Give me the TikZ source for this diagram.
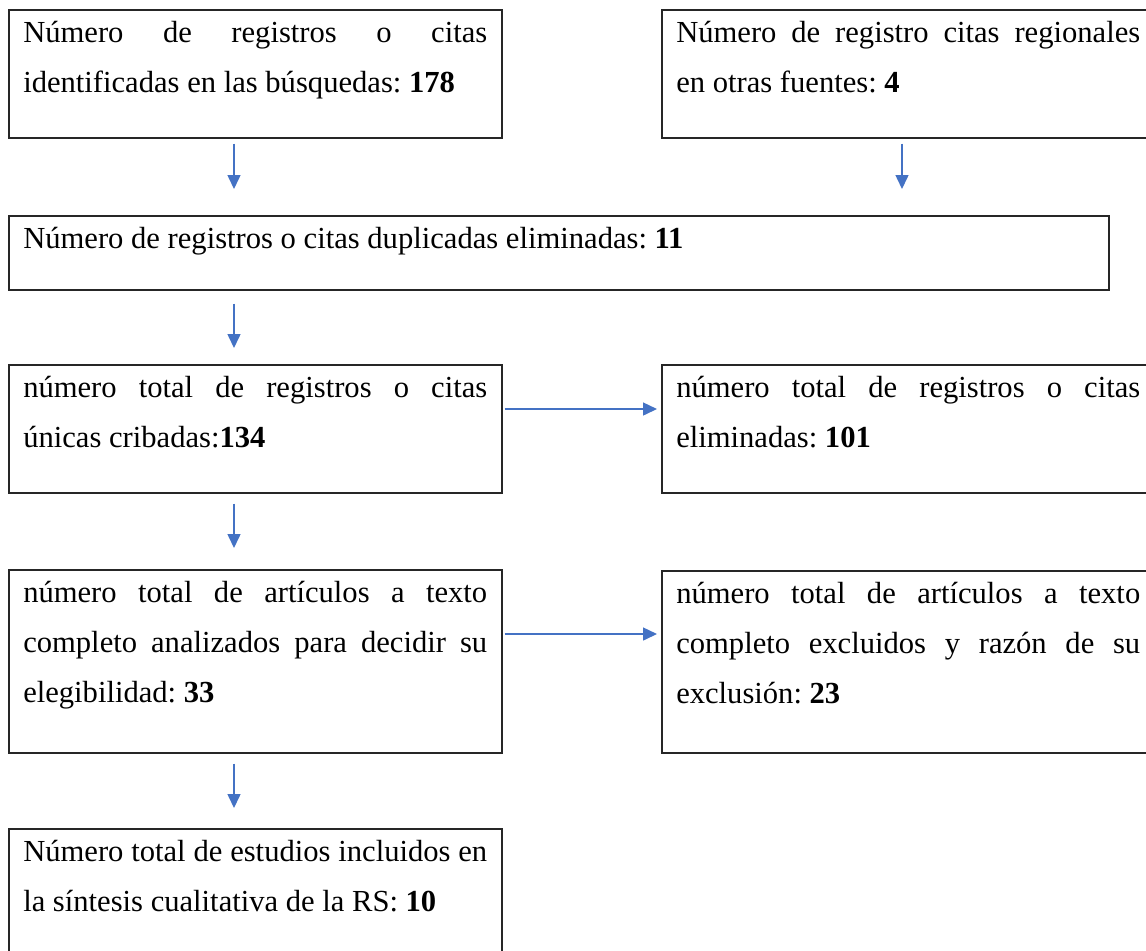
\documentclass[tikz,border=0pt]{standalone}
\usepackage{fontspec}
\setmainfont{Liberation Serif}
\usepackage{tikz}
\usetikzlibrary{arrows.meta}
\definecolor{azul}{RGB}{68,114,196}
\frenchspacing
\hbadness=10000
\newcommand{\cajatexto}[3][232pt]{\parbox[c][#2][t]{#1}{\rule{0pt}{16.5pt}#3}}
\newcommand{\renglon}[1]{\makebox[\linewidth][s]{#1}\\}

\begin{document}
\begin{tikzpicture}[x=0.5pt,y=-0.5pt]
\tikzset{caja/.style={draw=black!85,line width=0.75pt,anchor=north west,inner xsep=7.25pt,inner ysep=0pt,font=\fontsize{15.3}{25}\selectfont},
flecha/.style={draw=azul,line width=0.75pt,-{Triangle[width=6.5pt,length=7pt]}}}
\useasboundingbox (0,0) rectangle (1146,950);
\clip (0,0) rectangle (1146,950);
\node[caja] (busq) at (8,9) {\cajatexto{64pt}{\renglon{Número de registros o citas}identificadas en las búsquedas: \textbf{178}}};
\node[caja] (otras) at (661,9) {\cajatexto{64pt}{\renglon{Número de registro citas regionales}en otras fuentes: \textbf{4}}};
\node[caja] (dupl) at (8,215) {\cajatexto[535.5pt]{37pt}{Número de registros o citas duplicadas eliminadas: \textbf{11}}};
\node[caja] (crib) at (8,364) {\cajatexto{64pt}{\renglon{número total de registros o citas}únicas cribadas:\textbf{134}}};
\node[caja] (elim) at (661,364) {\cajatexto{64pt}{\renglon{número total de registros o citas}eliminadas: \textbf{101}}};
\node[caja] (compl) at (8,569) {\cajatexto{91.5pt}{\renglon{número total de artículos a texto}\renglon{completo analizados para decidir su}elegibilidad: \textbf{33}}};
\node[caja] (excl) at (661,570) {\cajatexto{91pt}{\renglon{número total de artículos a texto}\renglon{completo excluidos y razón de su}exclusión: \textbf{23}}};
\node[caja] (incl) at (8,828) {\cajatexto{64pt}{\renglon{Número total de estudios incluidos en}la síntesis cualitativa de la RS: \textbf{10}}};
\coordinate (a1) at ([xshift=113pt]busq.south west);
\coordinate (a2) at ([xshift=120.5pt]otras.south west);
\coordinate (a3) at ([xshift=113pt]dupl.south west);
\coordinate (a4) at ([xshift=113pt]crib.south west);
\coordinate (a5) at ([xshift=113pt]compl.south west);
\draw[flecha,shorten <=2.5pt,shorten >=13pt] (a1) -- (a1 |- dupl.north);
\draw[flecha,shorten <=2.5pt,shorten >=13pt] (a2) -- (a2 |- dupl.north);
\draw[flecha,shorten <=6.5pt,shorten >=8pt] (a3) -- (a3 |- crib.north);
\draw[flecha,shorten <=5pt,shorten >=10.5pt] (a4) -- (a4 |- compl.north);
\draw[flecha,shorten <=5pt,shorten >=10pt] (a5) -- (a5 |- incl.north);
\draw[flecha,shorten <=1pt,shorten >=2pt] ([yshift=-22.5pt]crib.north east) -- ([yshift=-22.5pt]elim.north west);
\draw[flecha,shorten <=1pt,shorten >=2pt] ([yshift=-32.5pt]compl.north east) -- ([yshift=-32pt]excl.north west);
\end{tikzpicture}
\end{document}
